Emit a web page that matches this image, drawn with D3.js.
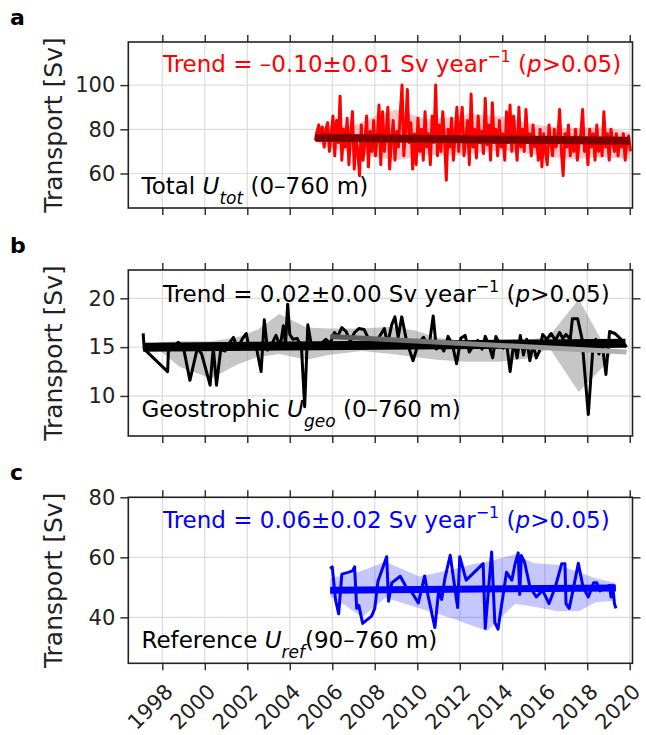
<!DOCTYPE html>
<html>
<head>
<meta charset="utf-8">
<script src="https://cdn.jsdelivr.net/npm/d3@7"></script>
<style>
  body { margin: 0; background: #fff; }
  text { font-family: "DejaVu Sans", sans-serif; }
</style>
</head>
<body>
<div class="chart"></div>
<script>
// ---- data ----
var yearTicks = [1998, 2000, 2002, 2004, 2006, 2008, 2010, 2012, 2014, 2016, 2018, 2020];
var totTicks = [60, 80, 100];
var geoTicks = [10, 15, 20];
var refTicks = [40, 60, 80];

// total transport, monthly from 2005.2
var totStart = 2005.2;
var totVals = [75, 79, 82, 76, 81, 72, 80, 83, 70, 78, 86, 68, 84, 74, 95, 66, 80, 72, 85, 64,
  78, 88, 62, 76, 70, 59, 82, 66, 74, 86, 63, 79, 70, 84, 68, 76, 91, 64, 88, 70,
  78, 90, 62, 75, 84, 66, 79, 72, 87, 100, 68, 80, 98, 74, 83, 62, 78, 64, 85, 70,
  80, 66, 88, 72, 78, 64, 86, 74, 100, 68, 82, 70, 88, 76, 57, 80, 72, 85, 66, 78,
  90, 70, 82, 90, 68, 76, 84, 64, 96, 72, 80, 67, 86, 74, 79, 69, 94, 73, 82, 66,
  92, 74, 80, 68, 84, 72, 78, 66, 88, 74, 91, 70, 86, 76, 66, 90, 72, 80, 70, 89,
  74, 78, 68, 82, 72, 76, 66, 80, 63, 78, 70, 64, 82, 74, 68, 80, 72, 76, 89, 70,
  59, 78, 72, 82, 68, 76, 70, 80, 66, 74, 78, 89, 70, 76, 64, 80, 72, 78, 66, 82,
  70, 76, 68, 88, 72, 78, 66, 80, 74, 70, 78, 68, 76, 72, 78, 66, 74, 77, 70];
var totBandYears = [2005.2, 2005.7, 2007.1, 2008.0, 2009.0, 2010.4, 2011.8, 2012.5, 2014.0, 2015.6, 2017.2, 2018.8, 2020.0];
var totBandHi = [79.5, 81.0, 82.0, 86.0, 89.0, 84.5, 85.7, 87.0, 85.7, 82.0, 80.5, 81.0, 78.5];
var totBandLo = [74.5, 72.0, 69.0, 67.5, 66.0, 68.5, 68.0, 69.0, 70.5, 68.5, 66.5, 67.5, 66.5];
var totTrendYears = [2005.2, 2020.0];
var totTrendVals = [76.2, 74.8];

// geostrophic transport
var geoYears = [1997.10, 1997.15, 1998.25, 1998.30, 1998.55, 1998.75, 1999.00, 1999.30, 1999.65, 1999.85,
  2000.25, 2000.40, 2000.55, 2000.75, 2000.95, 2001.15, 2001.35, 2001.55, 2001.75, 2001.95,
  2002.10, 2002.30, 2002.45, 2002.65, 2002.80, 2002.95, 2003.15, 2003.35, 2003.55, 2003.70,
  2003.80, 2003.90, 2004.00, 2004.15, 2004.35, 2004.55, 2004.70, 2004.85, 2005.00, 2005.25,
  2005.45, 2005.70, 2005.90, 2006.10, 2006.25, 2006.45, 2006.65, 2006.85, 2007.05, 2007.25,
  2007.50, 2007.70, 2007.90, 2008.05, 2008.25, 2008.45, 2008.60, 2008.80, 2008.95, 2009.10,
  2009.27, 2009.50, 2009.80, 2010.05, 2010.30, 2010.55, 2010.75, 2010.90, 2011.05, 2011.25,
  2011.45, 2011.65, 2011.85, 2012.05, 2012.25, 2012.45, 2012.65, 2012.85, 2013.05, 2013.20,
  2013.40, 2013.55, 2013.70, 2013.90, 2014.05, 2014.20, 2014.37, 2014.55, 2014.70, 2014.85,
  2015.00, 2015.15, 2015.30, 2015.45, 2015.60, 2015.75, 2015.90, 2016.10, 2016.30, 2016.50,
  2016.70, 2016.85, 2017.00, 2017.20, 2017.30, 2017.55, 2017.75, 2018.05, 2018.25, 2018.40,
  2018.55, 2018.70, 2018.88, 2019.05, 2019.30, 2019.55, 2019.85];
var geoVals = [16.4, 14.8, 12.5, 15.2, 15.0, 15.5, 14.9, 11.6, 14.9, 14.3,
  11.1, 15.0, 11.1, 14.8, 14.6, 15.4, 16.0, 14.8, 15.8, 16.4,
  14.8, 15.4, 14.7, 12.5, 17.8, 14.7, 15.3, 16.2, 15.1, 17.2,
  15.2, 19.4, 16.3, 15.8, 15.9, 15.0, 8.9, 17.3, 15.4, 15.0,
  15.3, 15.8, 15.4, 16.5, 16.1, 17.0, 16.6, 15.6, 16.5, 16.9,
  16.8, 15.9, 15.3, 15.2, 16.2, 16.9, 15.3, 17.3, 18.1, 16.0,
  18.1, 15.6, 13.6, 15.4, 16.0, 15.0, 18.2, 14.8, 15.4, 14.6,
  16.1, 15.3, 13.3, 15.9, 16.2, 14.5, 15.2, 15.7, 14.8, 16.1,
  15.0, 13.9, 16.1, 15.2, 14.9, 15.5, 12.5, 15.6, 13.9, 16.2,
  14.2, 15.8, 13.6, 15.3, 13.9, 14.6, 16.3, 15.8, 16.4, 15.7,
  16.5, 15.9, 16.3, 15.8, 17.9, 17.9, 15.9, 8.1, 14.4, 15.8,
  14.3, 15.4, 12.2, 16.6, 16.4, 15.9, 15.0];
var geoBandYears = [1997.8, 1998.8, 2000.3, 2001.5, 2002.5, 2003.5, 2004.8, 2005.8, 2007.4, 2008.8,
  2009.9, 2010.9, 2012.3, 2013.8, 2015.4, 2016.2, 2017.6, 2018.7, 2019.1];
var geoBandHi = [15.5, 15.6, 15.6, 16.0, 16.8, 18.4, 17.0, 16.9, 16.9, 17.1,
  16.7, 16.0, 15.6, 15.8, 15.8, 16.1, 19.9, 15.6, 15.4];
var geoBandLo = [14.8, 13.0, 11.8, 13.2, 14.0, 14.3, 13.7, 14.2, 14.6, 14.3,
  14.0, 13.7, 13.5, 13.5, 13.9, 15.0, 10.4, 12.9, 14.2];
var geoTrendYears = [1997.1, 2019.8];
var geoTrendVals = [15.0, 15.4];
var geoRecentYears = [2005.9, 2019.85];
var geoRecentVals = [16.1, 14.5];

// reference transport
var refYears = [2005.90, 2006.00, 2006.15, 2006.30, 2006.45, 2006.75, 2006.95, 2007.05, 2007.15, 2007.25,
  2007.43, 2007.85, 2008.00, 2008.15, 2008.56, 2008.65, 2008.80, 2009.20, 2009.50, 2009.75,
  2010.05, 2010.35, 2010.50, 2010.83, 2011.00, 2011.15, 2011.30, 2011.55, 2011.90, 2012.00,
  2012.30, 2013.10, 2013.20, 2013.50, 2013.65, 2013.80, 2014.20, 2014.45, 2014.60, 2014.75,
  2014.82, 2014.90, 2015.05, 2015.30, 2015.60, 2015.90, 2016.20, 2016.50, 2016.80, 2016.95,
  2017.00, 2017.15, 2017.30, 2017.58, 2017.80, 2018.05, 2018.30, 2018.45, 2018.60, 2018.90,
  2019.05, 2019.12, 2019.20, 2019.28, 2019.35];
var refVals = [56.2, 56.8, 46.0, 41.2, 54.4, 55.0, 55.5, 56.8, 43.0, 44.0,
  38.0, 40.4, 43.0, 52.0, 60.2, 45.4, 51.5, 53.7, 49.8, 48.3,
  44.8, 53.8, 47.5, 36.6, 48.5, 46.0, 53.0, 60.7, 43.3, 60.2,
  52.4, 57.9, 36.3, 61.8, 38.3, 36.1, 55.0, 52.4, 57.7, 61.5,
  47.6, 60.6, 58.4, 50.2, 46.8, 49.0, 44.6, 50.2, 57.9, 57.9,
  44.6, 43.0, 48.0, 58.0, 50.2, 46.8, 51.5, 51.5, 48.8, 50.2,
  50.7, 46.8, 50.7, 44.6, 43.0];
var refBandYears = [2005.9, 2006.6, 2007.4, 2008.5, 2010.1, 2011.7, 2012.5, 2013.3, 2014.6, 2015.5,
  2016.6, 2017.6, 2018.4, 2019.3];
var refBandHi = [53.0, 54.0, 55.5, 58.5, 53.6, 56.0, 57.5, 58.5, 61.0, 58.0, 57.5, 55.0, 53.0, 51.5];
var refBandLo = [47.0, 44.0, 40.0, 46.5, 43.0, 39.5, 37.5, 35.5, 44.5, 43.5, 42.0, 42.0, 45.0, 45.5];
var refTrendYears = [2005.9, 2019.35];
var refTrendVals = [49.0, 49.8];

// ---- layout ----
var width = 646, height = 735;
var plotLeft = 128.3, plotRight = 632.5;

var svg = d3.select('.chart')
  .append('svg')
    .attr('width', width)
    .attr('height', height);

var defs = svg.append('defs');
var grad = defs.append('linearGradient').attr('id', 'grayGrad');
grad.append('stop').attr('offset', '0%').attr('stop-color', '#555');
grad.append('stop').attr('offset', '100%').attr('stop-color', '#b5b5b5');

var x = d3.scaleLinear().domain([1996.4, 2020.13]).range([plotLeft, plotRight]);

function zip(xs, ys) { return xs.map(function (d, i) { return [d, ys[i]]; }); }
function band(xs, lo, hi) { return xs.map(function (d, i) { return { year: d, lo: lo[i], hi: hi[i] }; }); }

var totSeries = totVals.map(function (v, i) { return [totStart + i / 12, v]; });

var panels = [
  { letter: 'a', top: 42, bottom: 208, domain: [44.4, 119.5], ticks: totTicks,
    series: totSeries, band: band(totBandYears, totBandLo, totBandHi),
    trend: zip(totTrendYears, totTrendVals),
    color: 'red', bandColor: 'red', bandOpacity: 0.22, trendColor: '#800000', trendWidth: 8,
    trendText: ['Trend = \u20130.10\u00b10.01 Sv year', '\u22121', ' (', 'p', '>0.05)'],
    label: ['Total ', 'U', 'tot', ' (0\u2013760 m)'],
    textBase: 71.7, labelBase: 194 },
  { letter: 'b', top: 270, bottom: 436, domain: [5.9, 22.9], ticks: geoTicks,
    series: zip(geoYears, geoVals), band: band(geoBandYears, geoBandLo, geoBandHi),
    trend: zip(geoTrendYears, geoTrendVals), recent: zip(geoRecentYears, geoRecentVals),
    color: 'black', bandColor: '#808080', bandOpacity: 0.45, trendColor: 'black', trendWidth: 9,
    trendText: ['Trend = 0.02\u00b10.00 Sv year', '\u22121', ' (', 'p', '>0.05)'],
    label: ['Geostrophic ', 'U', 'geo', ' (0\u2013760 m)'],
    textBase: 301.7, labelBase: 416.7 },
  { letter: 'c', top: 497.3, bottom: 663.3, domain: [24.7, 80], ticks: refTicks,
    series: zip(refYears, refVals), band: band(refBandYears, refBandLo, refBandHi),
    trend: zip(refTrendYears, refTrendVals),
    color: 'blue', bandColor: 'blue', bandOpacity: 0.22, trendColor: 'blue', trendWidth: 7,
    trendText: ['Trend = 0.06\u00b10.02 Sv year', '\u22121', ' (', 'p', '>0.05)'],
    label: ['Reference ', 'U', 'ref', '(90\u2013760 m)'],
    textBase: 528.3, labelBase: 648.3 }
];

panels.forEach(function (p, k) {
  var y = d3.scaleLinear().domain(p.domain).range([p.bottom, p.top]);
  var g = svg.append('g');

  // grid
  g.selectAll('.vgrid').data(yearTicks).enter().append('line')
    .attr('x1', d => x(d)).attr('x2', d => x(d))
    .attr('y1', p.top).attr('y2', p.bottom)
    .style('stroke', '#dcdcdc').style('stroke-width', 1.2);
  g.selectAll('.hgrid').data(p.ticks).enter().append('line')
    .attr('x1', plotLeft).attr('x2', plotRight)
    .attr('y1', d => y(d)).attr('y2', d => y(d))
    .style('stroke', '#dcdcdc').style('stroke-width', 1.2);

  // band
  g.append('path')
    .datum(p.band)
    .attr('d', d3.area().x(d => x(d.year)).y0(d => y(d.lo)).y1(d => y(d.hi)))
    .style('fill', p.bandColor).style('fill-opacity', p.bandOpacity);

  // series
  g.append('path')
    .datum(p.series)
    .attr('d', d3.line().x(d => x(d[0])).y(d => y(d[1])))
    .style('fill', 'none').style('stroke', p.color).style('stroke-width', 3)
    .style('stroke-linejoin', 'round');

  // trend
  g.append('path')
    .datum(p.trend)
    .attr('d', d3.line().x(d => x(d[0])).y(d => y(d[1])))
    .style('fill', 'none').style('stroke', p.trendColor).style('stroke-width', p.trendWidth);

  if (p.recent) {
    g.append('path')
      .datum(p.recent)
      .attr('d', d3.line().x(d => x(d[0])).y(d => y(d[1])))
      .style('fill', 'none').style('stroke', 'url(#grayGrad)').style('stroke-width', 5);
  }

  // axes: ticks outward on all four sides
  var bottomAxis = d3.axisBottom(x).tickValues(yearTicks).tickSize(7).tickFormat('');
  var topAxis = d3.axisTop(x).tickValues(yearTicks).tickSize(7).tickFormat('');
  var leftAxis = d3.axisLeft(y).tickValues(p.ticks).tickSize(8).tickPadding(5);
  var rightAxis = d3.axisRight(y).tickValues(p.ticks).tickSize(8).tickFormat('');

  var axes = [
    g.append('g').attr('transform', `translate(0, ${p.bottom})`).call(bottomAxis),
    g.append('g').attr('transform', `translate(0, ${p.top})`).call(topAxis),
    g.append('g').attr('transform', `translate(${plotLeft}, 0)`).call(leftAxis),
    g.append('g').attr('transform', `translate(${plotRight}, 0)`).call(rightAxis)
  ];
  axes.forEach(function (a) {
    a.select('.domain').remove();
    a.selectAll('.tick line').style('stroke', '#333').style('stroke-width', 1.5);
    a.selectAll('.tick text').style('font-size', '21px').style('fill', '#222')
      .style('font-family', '"DejaVu Sans", sans-serif');
  });

  // frame
  g.append('rect')
    .attr('x', plotLeft).attr('y', p.top)
    .attr('width', plotRight - plotLeft).attr('height', p.bottom - p.top)
    .style('fill', 'none').style('stroke', '#222').style('stroke-width', 1.6);

  // y title
  g.append('text')
    .attr('transform', `translate(62, ${(p.top + p.bottom) / 2}) rotate(-90)`)
    .attr('text-anchor', 'middle')
    .style('font-size', '25px').style('fill', '#222')
    .text('Transport [Sv]');

  // panel letter
  svg.append('text')
    .attr('x', 10).attr('y', p.top - 17)
    .style('font-size', '22px').style('font-weight', 'bold')
    .text(p.letter);

  // trend text
  var t = g.append('text')
    .attr('x', 163).attr('y', p.textBase)
    .style('font-size', '23px').style('fill', p.color);
  t.append('tspan').text(p.trendText[0]);
  t.append('tspan').attr('dy', -10).style('font-size', '16px').text(p.trendText[1]);
  t.append('tspan').attr('dy', 10).text(p.trendText[2]);
  t.append('tspan').style('font-style', 'italic').text(p.trendText[3]);
  t.append('tspan').text(p.trendText[4]);

  // series label
  var l = g.append('text')
    .attr('x', 141.5).attr('y', p.labelBase)
    .style('font-size', '23px').style('fill', 'black');
  l.append('tspan').text(p.label[0]);
  l.append('tspan').style('font-style', 'italic').text(p.label[1]);
  l.append('tspan').attr('dy', 10).style('font-size', '17px').style('font-style', 'italic').text(p.label[2]);
  l.append('tspan').attr('dy', -10).text(p.label[3]);

  // year labels under the last panel
  if (k === panels.length - 1) {
    g.selectAll('.year').data(yearTicks).enter().append('text')
      .attr('transform', d => `translate(${x(d) + 12}, 693) rotate(-45)`)
      .attr('text-anchor', 'end')
      .style('font-size', '21px').style('fill', '#222')
      .text(d => d);
  }
});
</script>
</body>
</html>
